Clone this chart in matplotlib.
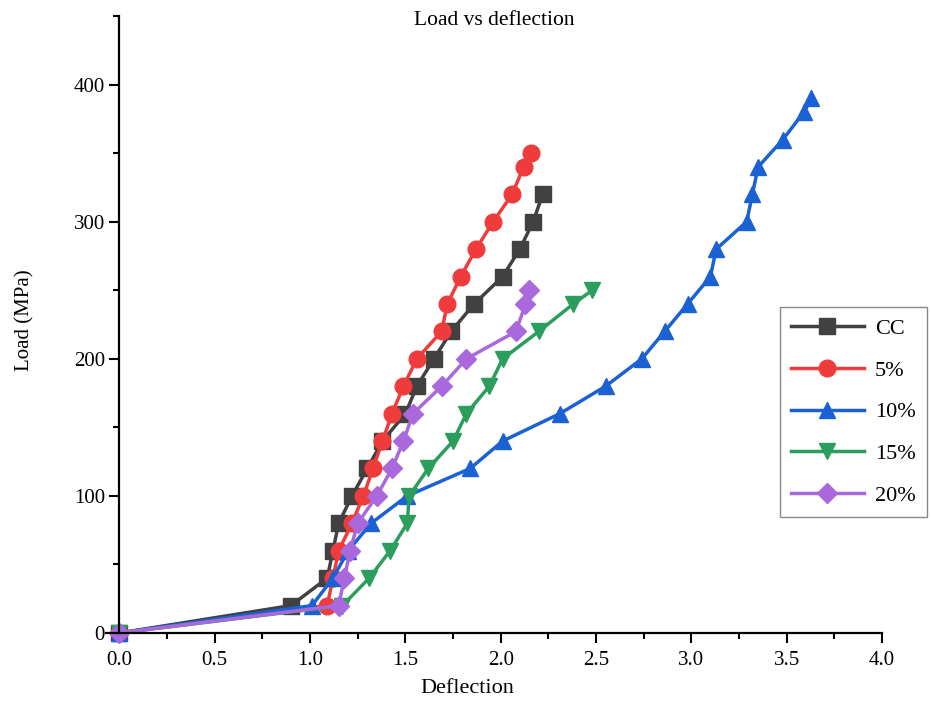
import matplotlib
matplotlib.use("Agg")
import matplotlib.pyplot as plt
from matplotlib.ticker import MultipleLocator

plt.rcParams['font.family'] = ['Liberation Serif', 'DejaVu Serif']

# ===== DATA =====
loads_cc = [0, 20, 40, 60, 80, 100, 120, 140, 160, 180, 200, 220, 240, 260, 280, 300, 320]
defl_cc = [0, 0.90, 1.09, 1.12, 1.15, 1.22, 1.30, 1.38, 1.50, 1.56, 1.65, 1.74, 1.86, 2.01, 2.10, 2.17, 2.22]

loads_5 = [0, 20, 40, 60, 80, 100, 120, 140, 160, 180, 200, 220, 240, 260, 280, 300, 320, 340, 350]
defl_5 = [0, 1.09, 1.12, 1.15, 1.22, 1.28, 1.33, 1.38, 1.43, 1.49, 1.56, 1.69, 1.72, 1.79, 1.87, 1.96, 2.06, 2.12, 2.16]

loads_10 = [0, 20, 40, 60, 80, 100, 120, 140, 160, 180, 200, 220, 240, 260, 280, 300, 320, 340, 360, 380, 390]
defl_10 = [0, 1.01, 1.12, 1.20, 1.32, 1.51, 1.84, 2.01, 2.31, 2.55, 2.74, 2.86, 2.98, 3.10, 3.13, 3.29, 3.32, 3.35, 3.48, 3.59, 3.63]

loads_15 = [0, 20, 40, 60, 80, 100, 120, 140, 160, 180, 200, 220, 240, 250]
defl_15 = [0, 1.17, 1.31, 1.42, 1.51, 1.52, 1.62, 1.75, 1.82, 1.94, 2.01, 2.20, 2.38, 2.48]

loads_20 = [0, 20, 40, 60, 80, 100, 120, 140, 160, 180, 200, 220, 240, 250]
defl_20 = [0, 1.15, 1.18, 1.21, 1.25, 1.35, 1.43, 1.49, 1.54, 1.69, 1.82, 2.08, 2.13, 2.15]

series = [
    ("CC", defl_cc, loads_cc, '#414141', 's', 11),
    ("5%", defl_5, loads_5, '#ef3b3b', 'o', 12),
    ("10%", defl_10, loads_10, '#1a62d4', '^', 12),
    ("15%", defl_15, loads_15, '#2b9d5c', 'v', 12),
    ("20%", defl_20, loads_20, '#a968dc', 'D', 10),
]

fig = plt.figure(figsize=(9.31, 7.04), dpi=100)
ax = fig.add_axes([0.1139, 0.1009, 0.8335, 0.8761])

for label, x, y, color, marker, ms in series:
    ax.plot(x, y, color=color, marker=marker, markersize=ms, linewidth=2.5,
            label=label, clip_on=False)

ax.set_xlim(-0.07, 4.0)
ax.set_ylim(0, 450)

ax.spines['top'].set_visible(False)
ax.spines['right'].set_visible(False)
ax.spines['left'].set_position(('data', 0))
ax.spines['left'].set_linewidth(1.6)
ax.spines['bottom'].set_linewidth(1.6)

ax.xaxis.set_major_locator(MultipleLocator(0.5))
ax.xaxis.set_minor_locator(MultipleLocator(0.25))
ax.yaxis.set_major_locator(MultipleLocator(100))
ax.yaxis.set_minor_locator(MultipleLocator(50))
ax.xaxis.set_major_formatter(plt.FormatStrFormatter('%.1f'))
ax.tick_params(which='major', direction='out', length=7, width=1.5, labelsize=15)
ax.tick_params(axis='x', which='major', pad=6)
ax.tick_params(which='minor', direction='out', length=4, width=1.5)

ax.set_xlabel('Deflection', fontsize=16)
ax.xaxis.set_label_coords(0.465, -0.075)
ax.set_ylabel('Load (MPa)', fontsize=15)
ax.yaxis.set_label_coords(-0.092, 0.507)
ax.set_title('Load vs deflection', fontsize=15.5, y=0.972)

ax.legend(loc='upper left', bbox_to_anchor=(0.868, 0.528), fontsize=16,
          frameon=True, fancybox=False, edgecolor='#888888', framealpha=1,
          handlelength=3.3, labelspacing=0.95, borderpad=0.5,
          handletextpad=0.5, borderaxespad=0)

fig.savefig('out.png', dpi=100)
